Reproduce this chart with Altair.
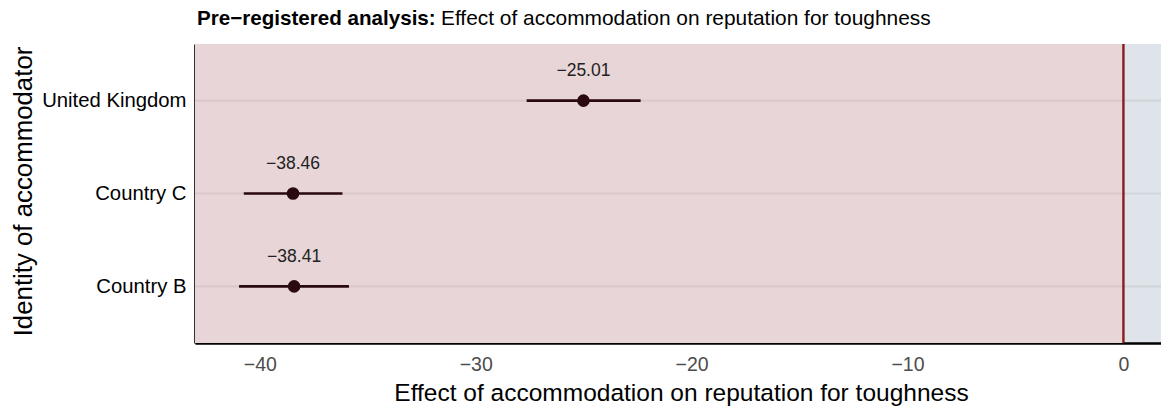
import altair as alt
import pandas as pd

# Estimates and 95% intervals per accommodating country
countries = ["United Kingdom", "Country C", "Country B"]
estimates = [-25.01, -38.46, -38.41]
ci_low = [-27.64, -40.74, -40.96]
ci_high = [-22.36, -36.17, -35.87]

x_ticks = [-40, -30, -20, -10, 0]
x_domain = [-43.0, 1.74]

FONT = "Liberation Sans"
W, H = 966, 299

df = pd.DataFrame({
    "country": countries,
    "est": estimates,
    "lo": ci_low,
    "hi": ci_high,
})

x_scale = alt.Scale(domain=x_domain, nice=False, zero=False)
y_scale = alt.Scale(type="point", domain=countries, padding=0.61)

x_axis = alt.Axis(
    values=x_ticks, ticks=False, grid=False,
    domainColor="black", domainWidth=2.6,
    labelFont=FONT, labelFontSize=19.5, labelColor="#4D4D4D", labelPadding=12,
    title="Effect of accommodation on reputation for toughness",
    titleFont=FONT, titleFontSize=24.5, titleFontWeight="normal", titleColor="black",
    titleBaseline="alphabetic", titleY=57, titleX=486,
)
y_axis = alt.Axis(
    ticks=False, grid=False,
    domainColor="black", domainWidth=2.6,
    labelFont=FONT, labelFontSize=20.3, labelColor="black", labelPadding=9,
    title="Identity of accommodator",
    titleFont=FONT, titleFontSize=25.8, titleFontWeight="normal", titleColor="black",
    titleBaseline="alphabetic", titleX=-164, titleY=147,
)

base = alt.Chart(df)
one_row = alt.Data(values=[{}])

# Shaded region for negative effects (the positive side uses the view fill)
neg_region = alt.Chart(one_row).mark_rect(color="#E8D5D8").encode(
    x=alt.datum(0, scale=x_scale, axis=x_axis),
    x2=alt.value(0),
    y=alt.value(0),
    y2=alt.value(H),
)

grid = base.mark_rule(color="#000000", opacity=0.06, strokeWidth=2.2).encode(
    y=alt.Y("country:N", scale=y_scale, axis=y_axis, sort=countries),
)

zero_line = alt.Chart(one_row).mark_rule(
    color="#8B1A1A", strokeWidth=2.4
).encode(
    x=alt.datum(0, scale=x_scale, axis=x_axis),
)

ci = base.mark_rule(color="#2A0A0F", strokeWidth=2.6).encode(
    x=alt.X("lo:Q", scale=x_scale, axis=x_axis),
    x2="hi:Q",
    y=alt.Y("country:N", scale=y_scale, axis=y_axis, sort=countries),
)

dots = base.mark_point(filled=True, size=160, opacity=1, color="#2A0A0F").encode(
    x=alt.X("est:Q", scale=x_scale, axis=x_axis),
    y=alt.Y("country:N", scale=y_scale, axis=y_axis, sort=countries),
)

labels = base.mark_text(
    font=FONT, fontSize=17.5, color="#222222", baseline="alphabetic", dy=-24.4
).encode(
    x=alt.X("est:Q", scale=x_scale, axis=x_axis),
    y=alt.Y("country:N", scale=y_scale, axis=y_axis, sort=countries),
    text=alt.Text("est:Q", format=".2f"),
)

title_bold = alt.Chart(one_row).mark_text(
    font=FONT, fontSize=20.6, fontWeight="bold", color="black",
    align="left", baseline="alphabetic",
).encode(x=alt.value(2), y=alt.value(-19), text=alt.value("Pre\u2212registered analysis:"))

title_rest = alt.Chart(one_row).mark_text(
    font=FONT, fontSize=20.9, color="black",
    align="left", baseline="alphabetic",
).encode(x=alt.value(246), y=alt.value(-19),
         text=alt.value("Effect of accommodation on reputation for toughness"))

chart = alt.layer(
    neg_region, grid, zero_line, ci, dots, labels, title_bold, title_rest
).properties(
    width=W, height=H,
    background="white",
    autosize=alt.AutoSizeParams(type="none"),
    padding={"left": 195, "top": 44, "right": 0, "bottom": 65},
).configure_view(
    fill="#DFE4EA", stroke=None,
)

chart.save("out.html", embed_options={"renderer": "svg", "actions": False})
